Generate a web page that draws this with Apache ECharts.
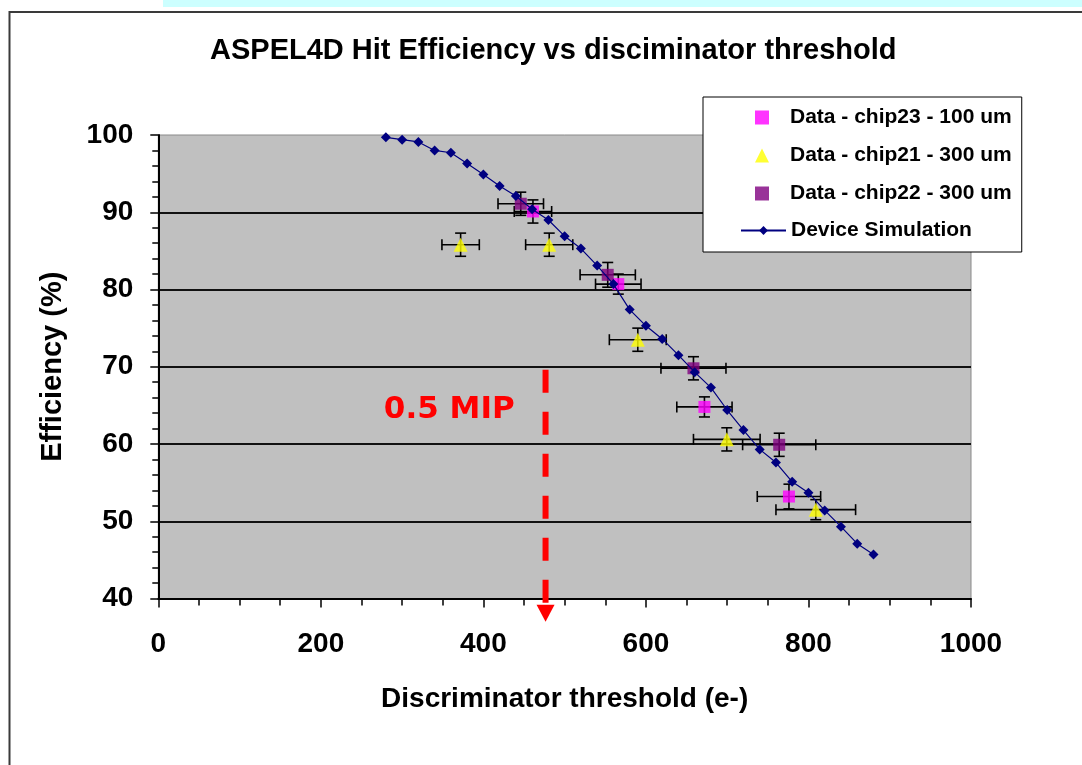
<!DOCTYPE html>
<html>
<head>
<meta charset="utf-8">
<script src="https://cdn.jsdelivr.net/npm/echarts@6/dist/echarts.min.js"></script>
<style>
html,body{margin:0;padding:0;background:#fff;}
#chart{width:1082px;height:765px;}
</style>
</head>
<body>
<div id="chart"></div>
<script>
// ---- data ----
var titleText = 'ASPEL4D Hit Efficiency vs disciminator threshold';
var xAxisName = 'Discriminator threshold (e-)';
var yAxisName = 'Efficiency (%)';

var simName = 'Device Simulation';
var simX = [280,300,320,340,360,380,400,420,440,460,480,500,520,540,560,580,600,620,640,660,680,700,720,740,760,780,800,820,840,860,880];
var simY = [99.7,99.4,99.1,98.0,97.7,96.3,94.9,93.4,92.1,90.4,89.0,86.9,85.3,83.1,80.7,77.4,75.3,73.6,71.5,69.3,67.3,64.4,61.8,59.3,57.6,55.1,53.7,51.4,49.3,47.1,45.7];

var chip23Name = 'Data - chip23 - 100 um';
var chip23X = [461, 566, 672, 776];
var chip23Y = [90.1, 80.7, 64.8, 53.2];
var chip23XErr = [23, 28, 34, 39];
var chip23YErr = [1.5, 1.3, 1.3, 1.6];

var chip21Name = 'Data - chip21 - 300 um';
var chip21X = [372, 481, 590, 699.5, 809];
var chip21Y = [85.8, 85.8, 73.5, 60.6, 51.5];
var chip21XErr = [23, 29, 35, 41, 49];
var chip21YErr = [1.5, 1.5, 1.5, 1.5, 1.3];

var chip22Name = 'Data - chip22 - 300 um';
var chip22X = [446, 553, 658.5, 764];
var chip22Y = [91.1, 81.9, 69.8, 59.9];
var chip22XErr = [28, 34, 40, 45];
var chip22YErr = [1.5, 1.6, 1.5, 1.5];

var mipLabel = '0.5 MIP';
var mipX = 476.5;
var mipTopY = 69.6;
var mipTipY = 37.0;
var mipLabelX = 358;
var mipLabelY = 64.4;

// ---- build ----
function pts(xs, ys){ return xs.map(function(x,i){ return [x, ys[i]]; }); }
function errPts(xs, ys, ex, ey){ return xs.map(function(x,i){ return [x, ys[i], ex[i], ey[i]]; }); }

function errRender(params, api){
  var x = api.value(0), y = api.value(1), ex = api.value(2), ey = api.value(3);
  var l = api.coord([x-ex, y]), r = api.coord([x+ex, y]);
  var t = api.coord([x, y+ey]), b = api.coord([x, y-ey]);
  var c = 5.5;
  var st = {stroke:'#000', lineWidth:1.6};
  return {type:'group', children:[
    {type:'line', shape:{x1:l[0],y1:l[1],x2:r[0],y2:r[1]}, style:st},
    {type:'line', shape:{x1:l[0],y1:l[1]-c,x2:l[0],y2:l[1]+c}, style:st},
    {type:'line', shape:{x1:r[0],y1:r[1]-c,x2:r[0],y2:r[1]+c}, style:st},
    {type:'line', shape:{x1:t[0],y1:t[1],x2:b[0],y2:b[1]}, style:st},
    {type:'line', shape:{x1:t[0]-c,y1:t[1],x2:t[0]+c,y2:t[1]}, style:st},
    {type:'line', shape:{x1:b[0]-c,y1:b[1],x2:b[0]+c,y2:b[1]}, style:st}
  ]};
}

function arrowRender(params, api){
  var top = api.coord([api.value(0), api.value(1)]);
  var tip = api.coord([api.value(0), api.value(2)]);
  var lab = api.coord([api.value(3), api.value(4)]);
  var ah = 17, aw = 9;
  return {type:'group', children:[
    {type:'line', shape:{x1:top[0],y1:top[1],x2:tip[0],y2:tip[1]-ah+1},
      style:{stroke:'#ff0000', lineWidth:6, lineDash:[23,19]}},
    {type:'polygon', shape:{points:[[tip[0]-aw,tip[1]-ah],[tip[0]+aw,tip[1]-ah],[tip[0],tip[1]]]},
      style:{fill:'#ff0000'}},
    {type:'text', x:lab[0], y:lab[1], style:{text:mipLabel, fill:'#ff0000',
      font:'bold 31px "DejaVu Sans"', align:'center', verticalAlign:'middle'}}
  ]};
}

var FONT = 'Liberation Sans';
var chart = echarts.init(document.getElementById('chart'), null, {renderer:'canvas'});
chart.setOption({
  animation:false,
  backgroundColor:'#ffffff',
  graphic:[
    {type:'rect', shape:{x:163,y:0,width:919,height:7}, style:{fill:'#ccffff'}, z:-10},
    {type:'rect', shape:{x:9.5,y:12,width:1100,height:800}, style:{fill:'none', stroke:'#3a3a3a', lineWidth:2}, z:-10}
  ],
  title:{
    text:titleText, left:205, top:31,
    textStyle:{fontFamily:FONT, fontWeight:'bold', fontSize:29, color:'#000'}
  },
  legend:[{
    orient:'vertical', left:703, top:97,
    padding:[10,10,48,52],
    itemWidth:14, itemHeight:14, itemGap:17,
    backgroundColor:'#fff', borderColor:'#000', borderWidth:1,
    textStyle:{fontFamily:FONT, fontWeight:'bold', fontSize:21, color:'#000', padding:[0,0,0,16]},
    data:[chip23Name, chip21Name, chip22Name]
  },{
    orient:'vertical', left:703, top:220,
    padding:[0,0,0,37],
    itemWidth:45, itemHeight:11,
    textStyle:{fontFamily:FONT, fontWeight:'bold', fontSize:21, color:'#000'},
    data:[simName]
  }],
  grid:{left:158.3, right:111, top:135, bottom:166.5, show:true,
    backgroundColor:'#c0c0c0', borderColor:'#8a8a8a', borderWidth:1},
  xAxis:{
    type:'value', min:0, max:1000, interval:200,
    name:xAxisName, nameLocation:'middle', nameGap:87,
    nameTextStyle:{fontFamily:FONT, fontWeight:'bold', fontSize:28, color:'#000'},
    axisLine:{show:true, onZero:false, lineStyle:{color:'#000', width:2}},
    axisTick:{show:true, length:9, lineStyle:{color:'#000', width:1.5}},
    minorTick:{show:true, splitNumber:4, length:7, lineStyle:{color:'#000', width:1.5}},
    axisLabel:{margin:32, fontFamily:FONT, fontWeight:'bold', fontSize:28, color:'#000',
      formatter:function(v){ return String(v); }},
    splitLine:{show:false}
  },
  yAxis:{
    type:'value', min:40, max:100, interval:10,
    name:yAxisName, nameLocation:'middle', nameGap:91,
    nameTextStyle:{fontFamily:FONT, fontWeight:'bold', fontSize:29, color:'#000'},
    axisLine:{show:true, onZero:false, lineStyle:{color:'#000', width:2}},
    axisTick:{show:true, length:8, lineStyle:{color:'#000', width:1.5}},
    minorTick:{show:true, splitNumber:5, length:6, lineStyle:{color:'#000', width:1.5}},
    axisLabel:{margin:25, fontFamily:FONT, fontWeight:'bold', fontSize:28, color:'#000'},
    splitLine:{show:true, showMinLine:false, showMaxLine:false, lineStyle:{color:'#111', width:2}}
  },
  series:[
    {name:'err23', type:'custom', renderItem:errRender, data:errPts(chip23X,chip23Y,chip23XErr,chip23YErr), encode:{x:0,y:1}, z:2, silent:true},
    {name:'err21', type:'custom', renderItem:errRender, data:errPts(chip21X,chip21Y,chip21XErr,chip21YErr), encode:{x:0,y:1}, z:2, silent:true},
    {name:'err22', type:'custom', renderItem:errRender, data:errPts(chip22X,chip22Y,chip22XErr,chip22YErr), encode:{x:0,y:1}, z:2, silent:true},
    {name:'mip', type:'custom', renderItem:arrowRender, clip:false,
      data:[[mipX, mipTopY, mipTipY, mipLabelX, mipLabelY]], encode:{x:0,y:1}, z:3, silent:true},
    {name:chip23Name, type:'scatter', symbol:'rect', symbolSize:12, itemStyle:{color:'#ff00ff'}, data:pts(chip23X,chip23Y), z:4},
    {name:chip21Name, type:'scatter', symbol:'triangle', symbolSize:14, itemStyle:{color:'#ffff00'}, data:pts(chip21X,chip21Y), z:4},
    {name:chip22Name, type:'scatter', symbol:'rect', symbolSize:12, itemStyle:{color:'#800080'}, data:pts(chip22X,chip22Y), z:4},
    {name:simName, type:'line', symbol:'diamond', symbolSize:10, showAllSymbol:true,
      lineStyle:{color:'#000080', width:1.2}, itemStyle:{color:'#000080'},
      data:pts(simX,simY), z:5}
  ]
});
</script>
</body>
</html>
